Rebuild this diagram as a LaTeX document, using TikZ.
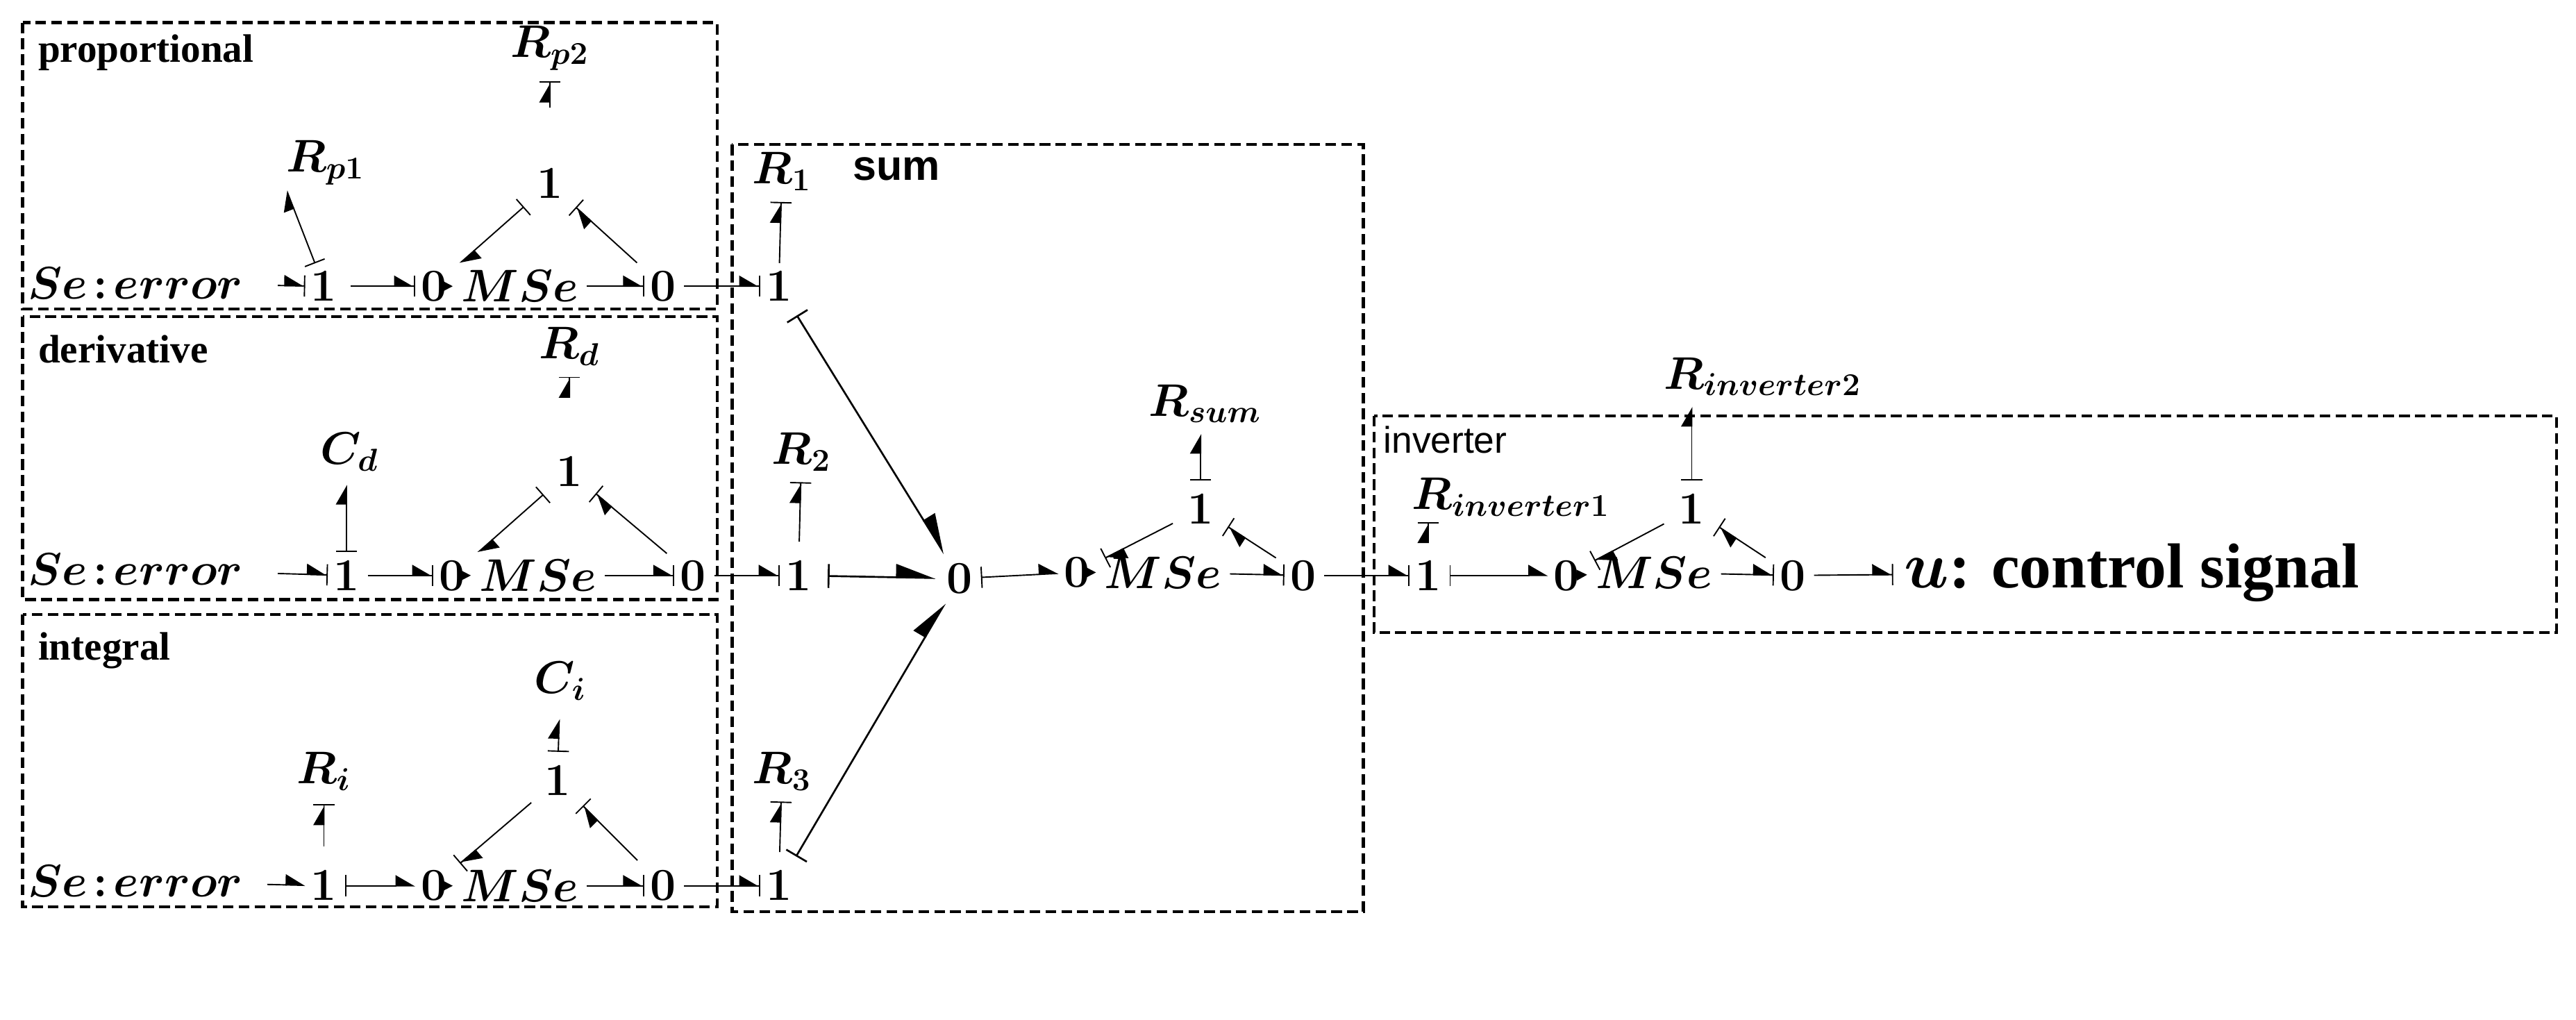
\documentclass[tikz,border=0pt]{standalone}
\usepackage{fontspec}
\newfontfamily\sansf{Liberation Sans}
\newfontfamily\serifb{Liberation Serif}
\usetikzlibrary{arrows.meta}
\begin{document}
\begin{tikzpicture}[x=0.2mm,y=-0.2mm,
  lab/.style={inner sep=1pt,font=\fontsize{18}{21}\selectfont\boldmath},
  ttl/.style={anchor=west,inner sep=0pt,font=\serifb\bfseries\fontsize{15}{18}\selectfont},
  box/.style={draw,dashed,line width=1.1pt,dash pattern=on 4pt off 2pt},
  bd/.style={line width=0.5pt,shorten <=2pt,shorten >=1pt},
  hb/.style={bd,-{Triangle[harpoon,length=7pt,width=8pt,sep=0pt]Bar[width=8pt]}},
  h/.style={bd,-{Triangle[harpoon,length=7pt,width=8pt]}},
  bh/.style={bd,{Bar[width=8pt]}-{Triangle[harpoon,length=7pt,width=8pt]}},
  big/.style={line width=0.7pt,shorten <=5pt,shorten >=3pt,{Bar[width=9pt]}-{Triangle[harpoon,length=14pt,width=10pt]}},
  sig/.style={line width=0.6pt,shorten <=2pt,shorten >=2pt,-{Triangle[length=4pt,width=4pt]}},
  gap/.style={shorten <=#1,shorten >=#1}]
\useasboundingbox (0,0) rectangle (1710,677);
% boxes
\draw[box] (15,15) rectangle (476,205);
\draw[box] (15,210) rectangle (476,398);
\draw[box] (15,408) rectangle (476,602);
\draw[box] (486,96) rectangle (905,605);
\draw[box] (912,276) rectangle (1697,420);
\node[ttl] at (25,35) {proportional};
\node[ttl] at (25,232) {derivative};
\node[ttl] at (25,432) {integral};
\node[anchor=west,inner sep=0pt,font=\sansf\bfseries\fontsize{16}{18}\selectfont] at (566,112) {sum};
\node[anchor=west,inner sep=0pt,font=\sansf\fontsize{14}{16}\selectfont] at (918,292) {inverter};
% ---- proportional
\node[lab] (pse) at (90,188) {$Se\!:\!error$};
\node[lab] (p1) at (215,190) {$1$};
\node[lab] (p0a) at (288,190) {$0$};
\node[lab] (pmse) at (345,190) {$MSe$};
\node[lab] (p0b) at (440,190) {$0$};
\node[lab] (p1t) at (365,122) {$1$};
\node[lab] (prp1) at (216,108) {$R_{p1}$};
\node[lab] (prp2) at (365,32) {$R_{p2}$};
% ---- derivative
\node[lab] (dse) at (90,378) {$Se\!:\!error$};
\node[lab] (d1) at (230,382) {$1$};
\node[lab] (d0a) at (300,382) {$0$};
\node[lab] (dmse) at (357,382) {$MSe$};
\node[lab] (d0b) at (460,382) {$0$};
\node[lab] (d1t) at (378,313) {$1$};
\node[lab] (dcd) at (232,300) {$C_d$};
\node[lab] (drd) at (378,230) {$R_d$};
% ---- integral
\node[lab] (ise) at (90,585) {$Se\!:\!error$};
\node[lab] (i1) at (215,588) {$1$};
\node[lab] (i0a) at (288,588) {$0$};
\node[lab] (imse) at (345,588) {$MSe$};
\node[lab] (i0b) at (440,588) {$0$};
\node[lab] (i1t) at (370,518) {$1$};
\node[lab] (iri) at (215,512) {$R_i$};
\node[lab] (ici) at (372,452) {$C_i$};
% ---- sum
\node[lab] (s1a) at (517,190) {$1$};
\node[lab] (s1b) at (530,382) {$1$};
\node[lab] (s1c) at (517,588) {$1$};
\node[lab] (sr1) at (519,114) {$R_1$};
\node[lab] (sr2) at (532,300) {$R_2$};
\node[lab] (sr3) at (519,512) {$R_3$};
\node[lab] (s0) at (637,384) {$0$};
\node[lab] (s0a) at (715,380) {$0$};
\node[lab] (smse) at (772,380) {$MSe$};
\node[lab] (s0b) at (865,382) {$0$};
\node[lab] (s1t) at (797,338) {$1$};
\node[lab] (srs) at (800,268) {$R_{sum}$};
% ---- inverter
\node[lab] (v1) at (948,382) {$1$};
\node[lab] (v0a) at (1040,382) {$0$};
\node[lab] (vmse) at (1098,380) {$MSe$};
\node[lab] (v0b) at (1190,382) {$0$};
\node[lab] (v1t) at (1123,338) {$1$};
\node[lab] (vr1) at (1003,330) {$R_{inverter1}$};
\node[lab] (vr2) at (1170,250) {$R_{inverter2}$};
\node[inner sep=1pt,anchor=west,font=\serifb\bfseries\fontsize{24}{28}\selectfont] (u) at (1262,380) {{\boldmath$u$}: control signal};
% ---- bonds proportional
\draw[hb,shorten <=12pt] (pse) -- (p1);
\draw[hb,shorten <=4pt] (p1) -- (p0a);
\draw[sig] (p0a) -- (pmse);
\draw[hb] (pmse) -- (p0b);
\draw[hb] (p0b) -- (s1a);
\draw[bh] (p1) -- ([xshift=1pt]prp1.south west);
\draw[hb,shorten <=22pt,shorten >=3pt] (p1t) -- (prp2);
\draw[bh,gap=5pt] (p1t) -- (p0a);
\draw[hb,gap=5pt] (p0b) -- (p1t);
% ---- bonds derivative
\draw[hb,shorten <=12pt] (dse) -- (d1);
\draw[hb] (d1) -- (d0a);
\draw[sig] (d0a) -- (dmse);
\draw[hb] (dmse) -- (d0b);
\draw[hb] (d0b) -- (s1b);
\draw[bh,shorten >=4pt] (d1) -- (d1|-dcd.south);
\draw[hb,shorten <=22pt,shorten >=3pt] (d1t) -- (drd);
\draw[bh,gap=5pt] (d1t) -- (d0a);
\draw[hb,gap=5pt] (d0b) -- (d1t);
% ---- bonds integral
\draw[h,shorten <=8pt] (ise) -- (i1);
\draw[bh] (i1) -- (i0a);
\draw[sig] (i0a) -- (imse);
\draw[hb] (imse) -- (i0b);
\draw[hb] (i0b) -- (s1c);
\draw[hb,shorten <=8pt,shorten >=4pt] (i1) -- (iri);
\draw[bh,shorten <=4pt,shorten >=6pt] (i1t) -- (ici);
\draw[hb,gap=5pt] (i1t) -- (i0a);
\draw[hb,gap=5pt] (i0b) -- (i1t);
% ---- bonds sum
\draw[hb,shorten >=3pt] (s1a) -- (sr1);
\draw[hb,shorten <=6pt,shorten >=3pt] (s1b) -- (sr2);
\draw[hb,shorten <=6pt,shorten >=3pt] (s1c) -- (sr3);
\draw[big] (s1a) -- (s0);
\draw[big] (s1b) -- (s0);
\draw[big] (s1c) -- (s0);
\draw[bh] (s0) -- (s0a);
\draw[sig] (s0a) -- (smse);
\draw[hb] (smse) -- (s0b);
\draw[hb] (s0b) -- (v1);
\draw[bh,shorten <=4pt,shorten >=3pt] (s1t) -- (srs.south-|s1t);
\draw[hb,gap=5pt] (s1t) -- (s0a);
\draw[hb,gap=5pt] (s0b) -- (s1t);
% ---- bonds inverter
\draw[hb,shorten <=6pt] (v1) -- (v1|-vr1.south);
\draw[bh] (v1) -- (v0a);
\draw[sig] (v0a) -- (vmse);
\draw[hb] (vmse) -- (v0b);
\draw[hb,shorten >=3pt] (v0b) -- (u);
\draw[bh,shorten <=4pt,shorten >=3pt] (v1t) -- (v1t|-vr2.south);
\draw[hb,gap=5pt] (v1t) -- (v0a);
\draw[hb,gap=5pt] (v0b) -- (v1t);
\end{tikzpicture}
\end{document}
